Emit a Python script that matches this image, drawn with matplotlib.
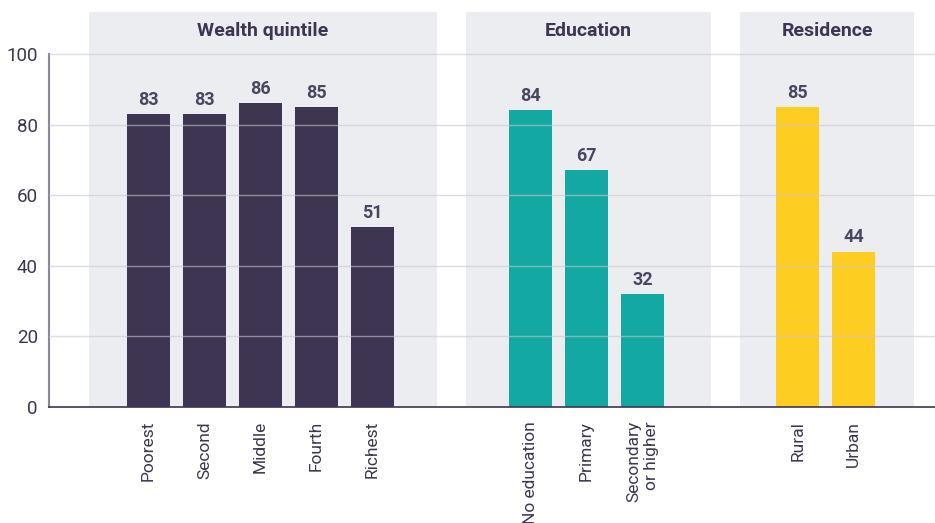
import matplotlib.pyplot as plt
import numpy as np

plt.rcParams['font.family'] = ['Roboto', 'DejaVu Sans']

groups = ['Wealth quintile', 'Education', 'Residence']
categories = [
    ['Poorest', 'Second', 'Middle', 'Fourth', 'Richest'],
    ['No education', 'Primary', 'Secondary\nor higher'],
    ['Rural', 'Urban'],
]
values = [
    [83, 83, 86, 85, 51],
    [84, 67, 32],
    [85, 44],
]
colors = ['#3d3551', '#14a8a3', '#fecd22']
yticks = [0, 20, 40, 60, 80, 100]

# layout (in bar-spacing units)
group_gaps = [2.82, 2.77]
pad_left = [1.06, 1.15, 1.03]
pad_right = [1.15, 1.22, 1.08]
bar_width = 0.77

text_dark = '#3d3551'
panel_color = '#ecedf1'

fig = plt.figure(figsize=(9.35, 5.23), dpi=100)
ax = fig.add_axes([49 / 935, (523 - 407) / 523, 886 / 935, (407 - 12) / 523])
ymax = 100 * (407 - 12) / (407 - 54)
ax.set_ylim(0, ymax)
ax.set_xlim(-1.777, 14.04)

xticks, xlabels = [], []
start = 0.0
for i, (grp, cats, vals) in enumerate(zip(groups, categories, values)):
    xs = start + np.arange(len(cats))
    ax.axvspan(xs[0] - pad_left[i], xs[-1] + pad_right[i], color=panel_color, zorder=0, lw=0)
    ax.bar(xs, vals, width=bar_width, color=colors[i], zorder=2)
    for x, v in zip(xs, vals):
        ax.text(x, v + 1.5, f'{v}', ha='center', va='bottom', fontsize=13,
                fontweight='bold', color='#4a4560', zorder=4)
    cx = (xs[0] - pad_left[i] + xs[-1] + pad_right[i]) / 2
    ax.text(cx, 106.6, grp, ha='center', va='center', fontsize=14,
            fontweight='bold', color=text_dark)
    xticks += list(xs)
    xlabels += cats
    if i < len(group_gaps):
        start = xs[-1] + group_gaps[i]

for y in yticks[1:]:
    ax.axhline(y, color='#c8c8d0', lw=1, alpha=0.6, zorder=3)

ax.set_yticks(yticks)
ax.set_yticklabels([str(t) for t in yticks], fontsize=13.5, color=text_dark)
ax.set_xticks(xticks)
ax.set_xticklabels(xlabels, rotation=90, fontsize=12.5, color=text_dark,
                   ha='center', va='top', multialignment='right')
ax.tick_params(axis='both', length=0)
ax.tick_params(axis='y', pad=8)
ax.tick_params(axis='x', pad=10)

for s in ['top', 'right']:
    ax.spines[s].set_visible(False)
ax.spines['left'].set_bounds(0, 100)
ax.spines['left'].set_color('#8a8799')
ax.spines['left'].set_linewidth(1.5)
ax.spines['bottom'].set_color('#3d3551')
ax.spines['bottom'].set_linewidth(1.2)
ax.spines['bottom'].set_zorder(5)

fig.savefig('out.png', dpi=100)
